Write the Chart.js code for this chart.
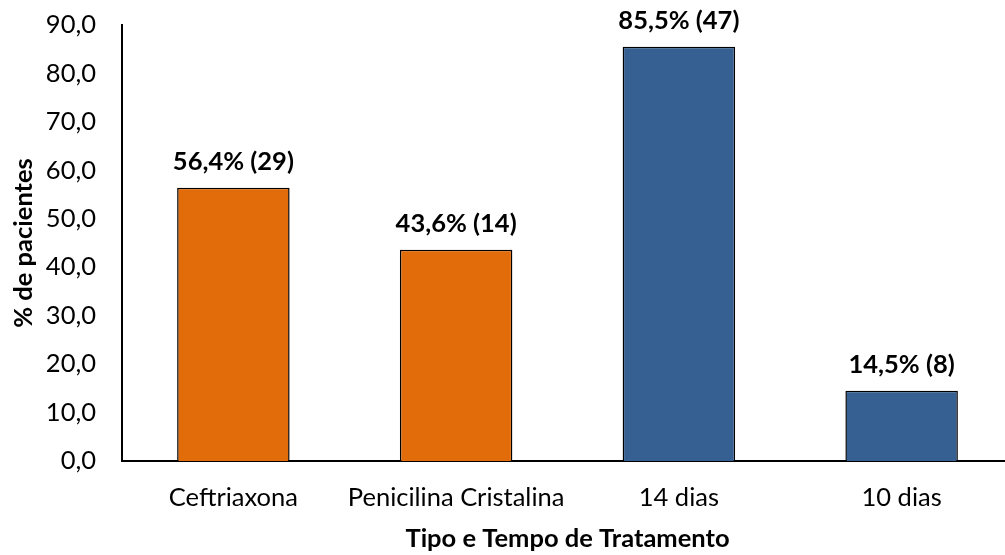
<!DOCTYPE html>
<html>
<head>
<meta charset="utf-8">
<script src="https://cdn.jsdelivr.net/npm/chart.js@4/dist/chart.umd.min.js"></script>
<style>
  html, body { margin: 0; padding: 0; background: #fff; overflow: hidden; }
  #wrap { width: 1013px; height: 555px; }
</style>
</head>
<body>
<div id="wrap"><canvas id="myChart"></canvas></div>
<script>
var categorias = ['Ceftriaxona', 'Penicilina Cristalina', '14 dias', '10 dias'];
var percentuais = [56.4, 43.6, 85.5, 14.5];
var pacientes = [29, 14, 47, 8];
var cores = ['#E36C0A', '#E36C0A', '#376092', '#376092'];

var fonte = "Lato, 'Open Sans', sans-serif";
var tam = 25.5;

function fmt(v) {
    return v.toFixed(1).replace('.', ',');
}

// rótulos acima das barras
var rotulos = {
    id: 'rotulos',
    afterDatasetsDraw(chart) {
        const ctx = chart.ctx;
        const meta = chart.getDatasetMeta(0);
        ctx.save();
        ctx.font = 'bold ' + tam + 'px ' + fonte;
        ctx.fillStyle = '#000';
        ctx.textAlign = 'center';
        ctx.textBaseline = 'middle';
        meta.data.forEach((bar, i) => {
            const txt = fmt(percentuais[i]) + '% (' + pacientes[i] + ')';
            ctx.fillText(txt, bar.x, bar.y - 26);
        });
        ctx.restore();
    }
};

Chart.defaults.color = '#000';
Chart.defaults.font.family = fonte;
Chart.defaults.font.size = tam;

const ctx = document.getElementById('myChart');
const myChart = new Chart(ctx, {
    type: 'bar',
    data: {
        labels: categorias,
        datasets: [{
            data: percentuais,
            backgroundColor: cores,
            borderColor: '#000',
            borderWidth: 1.5,
            categoryPercentage: 1,
            barPercentage: 0.505
        }]
    },
    options: {
        responsive: true,
        maintainAspectRatio: false,
        animation: false,
        devicePixelRatio: 1,
        layout: {
            padding: { top: 25, right: 0, left: 0, bottom: 0 }
        },
        plugins: {
            legend: { display: false },
            tooltip: { enabled: false }
        },
        scales: {
            x: {
                grid: { display: false, drawTicks: false },
                border: { color: '#000', width: 2 },
                ticks: { padding: 21, font: { size: tam } },
                title: {
                    display: true,
                    text: 'Tipo e Tempo de Tratamento',
                    font: { size: tam, weight: 'bold' },
                    padding: { top: 9, bottom: 1 }
                },
                afterFit(scale) {
                    scale.height = 94;
                    scale.paddingLeft = 0;
                    scale.paddingRight = 0;
                }
            },
            y: {
                min: 0,
                max: 90,
                grid: { display: false, drawTicks: false },
                border: { color: '#000', width: 2 },
                ticks: {
                    stepSize: 10,
                    padding: 26,
                    font: { size: tam },
                    callback: (v) => fmt(v)
                },
                title: {
                    display: true,
                    text: '% de pacientes',
                    font: { size: tam, weight: 'bold' },
                    padding: { top: 8, bottom: 8 }
                },
                afterFit(scale) {
                    scale.width = 122;
                    scale.paddingTop = 0;
                    scale.paddingBottom = 0;
                }
            }
        }
    },
    plugins: [rotulos]
});
</script>
</body>
</html>
